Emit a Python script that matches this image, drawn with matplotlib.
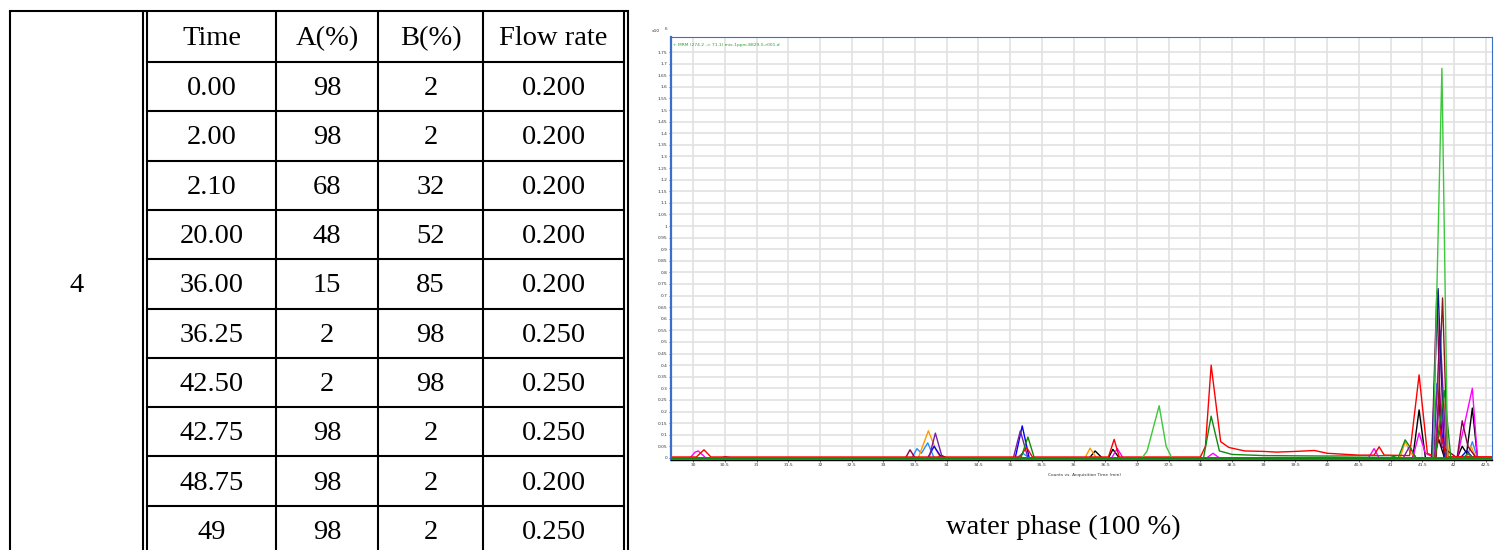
import matplotlib
matplotlib.use("Agg")
import matplotlib.pyplot as plt
from matplotlib.lines import Line2D

# ---- gradient table ----
header = ["Time", "A(%)", "B(%)", "Flow rate"]
times = ["0.00", "2.00", "2.10", "20.00", "36.00", "36.25", "42.50", "42.75", "48.75", "49"]
a_pct = ["98", "98", "68", "48", "15", "2", "2", "98", "98", "98"]
b_pct = ["2", "2", "32", "52", "85", "98", "98", "2", "2", "2"]
flow = ["0.200", "0.200", "0.200", "0.200", "0.200", "0.250", "0.250", "0.250", "0.200", "0.250"]
method_no = "4"

# ---- chromatogram traces (time min, counts x10^6) ----
red_t = [29.65, 30.05, 30.17, 30.28, 35.15, 35.26, 35.35, 36.55, 36.64, 36.72, 38.0, 38.08, 38.17, 38.32,
         38.45, 38.7, 39.0, 39.2, 39.5, 39.8, 40.0, 40.5, 40.74, 40.82, 40.9, 41.3, 41.45, 41.58, 41.7,
         41.78, 41.88, 42.6]
red_y = [0.004, 0.004, 0.035, 0.004, 0.004, 0.045, 0.004, 0.004, 0.08, 0.004, 0.004, 0.05, 0.40, 0.07,
         0.045, 0.03, 0.028, 0.025, 0.028, 0.032, 0.02, 0.012, 0.012, 0.048, 0.012, 0.01, 0.358, 0.02, 0.005,
         0.12, 0.005, 0.005]
dkgreen_t = [29.65, 35.17, 35.28, 35.38, 38.05, 38.17, 38.3, 38.5, 39.0, 40.0, 41.0, 41.12, 41.23, 41.3,
             41.4, 41.7, 41.85, 41.95, 42.15, 42.22, 42.3, 42.6]
dkgreen_y = [0, 0, 0.09, 0, 0, 0.18, 0.03, 0.015, 0.01, 0.008, 0.01, 0.0, 0.078, 0.05,
             0, 0, 0.29, 0, 0, 0.02, 0, 0]
lime_t = [29.65, 37.08, 37.16, 37.35, 37.46, 37.55, 41.67, 41.81, 41.9, 42.6]
lime_y = [0, 0, 0.03, 0.225, 0.05, 0, 0, 1.68, 0, 0]
blue_t = [29.65, 33.7, 33.8, 33.92, 35.08, 35.19, 35.3, 41.7, 41.76, 41.85, 42.1, 42.2, 42.3, 42.6]
blue_y = [0, 0, 0.05, 0, 0, 0.138, 0, 0, 0.25, 0, 0, 0.03, 0, 0]
navy_t = [29.65, 41.65, 41.75, 41.85, 42.6]
navy_y = [0, 0, 0.73, 0, 0]
maroon_t = [29.65, 33.35, 33.42, 33.5, 41.65, 41.73, 41.8, 42.05, 42.13, 42.22, 42.35, 42.6]
maroon_y = [0, 0, 0.035, 0, 0, 0.72, 0.05, 0, 0.16, 0.05, 0, 0]
dkred_t = [29.65, 41.72, 41.82, 41.9, 42.6]
dkred_y = [0, 0, 0.69, 0, 0]
purple_t = [29.65, 30.45, 30.5, 30.6, 33.72, 33.82, 33.93, 35.05, 35.16, 35.28, 41.2, 41.3, 41.4,
            41.68, 41.78, 41.88, 42.6]
purple_y = [0, 0, 0.006, 0, 0, 0.107, 0, 0, 0.117, 0, 0, 0.05, 0, 0, 0.55, 0, 0]
magenta_t = [29.65, 29.95, 30.03, 30.08, 30.2, 36.6, 36.69, 36.78, 38.1, 38.2, 38.3, 40.65, 40.74, 40.82,
             41.35, 41.45, 41.55, 41.7, 41.77, 41.87, 42.05, 42.29, 42.37, 42.6]
magenta_y = [0, 0, 0.025, 0.03, 0, 0, 0.04, 0, 0, 0.02, 0, 0, 0.04, 0,
             0, 0.107, 0.02, 0, 0.28, 0, 0, 0.30, 0, 0]
black_t = [29.65, 33.85, 33.92, 34.0, 36.25, 36.34, 36.45, 36.55, 36.62, 36.72, 41.35, 41.45, 41.55,
           41.68, 41.76, 41.85, 42.05, 42.13, 42.2, 42.29, 42.37, 42.6]
black_y = [0, 0, 0.01, 0, 0, 0.03, 0, 0, 0.037, 0, 0, 0.207, 0,
           0, 0.08, 0, 0, 0.05, 0.02, 0.215, 0, 0]
orange_t = [29.65, 33.55, 33.71, 33.82, 33.9, 36.18, 36.26, 36.36, 41.15, 41.23, 41.32, 41.4,
            41.7, 41.83, 41.92, 42.2, 42.27, 42.35, 42.6]
orange_y = [0, 0, 0.117, 0.04, 0, 0, 0.042, 0, 0, 0.07, 0.02, 0,
            0, 0.28, 0, 0, 0.05, 0, 0]
dodger_t = [29.65, 33.45, 33.53, 33.6, 33.7, 33.8, 35.1, 35.2, 35.3, 41.65, 41.73, 41.8, 41.9,
            42.2, 42.29, 42.37, 42.6]
dodger_y = [0, 0, 0.04, 0.02, 0.065, 0, 0, 0.02, 0, 0, 0.32, 0.1, 0,
            0, 0.07, 0, 0]

traces = [
    (black_t, black_y, "#000000"),
    (dodger_t, dodger_y, "#2a8cff"),
    (orange_t, orange_y, "#ff9a00"),
    (blue_t, blue_y, "#0000ff"),
    (purple_t, purple_y, "#7a1fa2"),
    (magenta_t, magenta_y, "#ff00ff"),
    (maroon_t, maroon_y, "#8b0045"),
    (dkred_t, dkred_y, "#8b1a1a"),
    (navy_t, navy_y, "#1a1a8c"),
    (red_t, red_y, "#ff0000"),
    (dkgreen_t, dkgreen_y, "#108a10"),
    (lime_t, lime_y, "#3cc83c"),
]

W, H = 1495, 550
fig = plt.figure(figsize=(W / 100, H / 100), dpi=100)

# overlay axes in pixel coordinates for the table
bg = fig.add_axes([0, 0, 1, 1])
bg.set_xlim(0, W)
bg.set_ylim(H, 0)
bg.axis("off")

serif = "Liberation Serif"
fs = 20.5
lw = 1.5
top, hdr, rowh = 11, 62, 49.3
bottom = hdr + rowh * len(times)
for x in [10, 143, 147, 276, 378, 483, 624, 628]:
    bg.plot([x, x], [top, bottom], color="black", lw=lw, solid_capstyle="butt")
bg.plot([10, 628], [top, top], color="black", lw=lw)
for i in range(len(times)):
    y = hdr + i * rowh
    bg.plot([147, 624], [y, y], color="black", lw=lw)

col_x = [211.5, 327, 430.5, 553.5]
for cx, h in zip(col_x, header):
    bg.text(cx, (top + hdr) / 2 + 2, h, ha="center", va="center", family=serif, fontsize=fs)
for i, row in enumerate(zip(times, a_pct, b_pct, flow)):
    yc = hdr + (i + 0.5) * rowh + 2
    for cx, v in zip(col_x, row):
        bg.text(cx, yc, v, ha="center", va="center", family=serif, fontsize=fs)
bg.text(76.5, 285, method_no, ha="center", va="center", family=serif, fontsize=fs)
bg.text(1063, 527, "water phase (100 %)", ha="center", va="center", family=serif, fontsize=fs)

# ---- chromatogram ----
ax = fig.add_axes([671 / W, 1 - 460 / H, (1492 - 671) / W, (460 - 37) / H])
for t, yv, c in traces:
    ax.plot(t, yv, color=c, lw=1.0)
ax.axhline(0, color="#108a10", lw=2.0, zorder=3)
ax.set_xlim(29.65, 42.6)
ax.set_ylim(-0.009, 1.815)
ax.set_xticks([30 + 0.5 * i for i in range(26)])
ax.set_yticks([0.05 * i for i in range(36)])
ax.set_xticklabels(["%g" % (30 + 0.5 * i) for i in range(26)])
ax.set_yticklabels(["%g" % round(0.05 * i, 2) for i in range(36)])
ax.tick_params(labelsize=3.2, length=1.5, width=0.5, pad=1, colors="#333333")
ax.grid(True, color="#e2e2e2", lw=1.2)
ax.set_axisbelow(True)
for s in ["left", "top", "right"]:
    ax.spines[s].set_color("#3a6ec8")
ax.spines["left"].set_linewidth(1.6)
ax.spines["top"].set_linewidth(0.8)
ax.spines["right"].set_linewidth(0.8)
ax.spines["bottom"].set_color("#000000")
ax.spines["bottom"].set_linewidth(1.0)
ax.text(0.002, 0.985, "+ MRM (274.2 -> 71.1) mix-1ppm-8829-5-r001.d", transform=ax.transAxes,
        fontsize=3.2, color="#2ca02c", va="top", ha="left")
bg.text(652, 31, "x10", fontsize=3.2, color="#333333", va="center", ha="left")
bg.text(665, 29, "6", fontsize=3.0, color="#333333", va="center", ha="left")
bg.text(1085, 475, "Counts vs. Acquisition Time (min)", fontsize=3.2, color="#333333",
        va="center", ha="center")

fig.savefig("out.png", dpi=100)
